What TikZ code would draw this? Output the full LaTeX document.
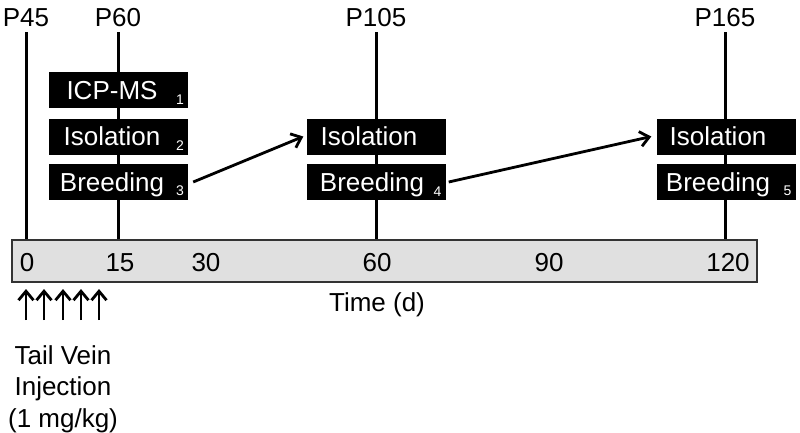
\documentclass[tikz,border=0pt]{standalone}
\usepackage{fontspec}
\setmainfont{Liberation Sans}
\usetikzlibrary{arrows.meta}
\tikzset{
  caja/.style={fill=black, text=white, minimum width=139pt, minimum height=36pt,
    inner sep=0pt, text height=18.5pt, text depth=0pt},
  subind/.style={text=white, font=\fontsize{14}{14}\selectfont, inner sep=0pt,
    anchor=south east},
  etiq/.style={inner sep=0pt, text height=18.5pt, text depth=0pt},
  eje/.style={line width=3pt},
  flecha/.style={line width=2.8pt, -{Straight Barb[length=9pt,width=15pt]}}
}
\begin{document}
\begin{tikzpicture}[x=1pt, y=-1pt, font=\fontsize{26}{31.5}\selectfont]
    \useasboundingbox (0,0) rectangle (800,432);
    % Barra de tiempo
    \node[draw=black!80, fill=black!12, line width=2pt, minimum width=745pt,
      minimum height=42pt, inner sep=0pt, anchor=north west] (barra) at (11,239) {};
    % Valores del eje
    \foreach \d/\x in {0/27,15/120,30/206,60/377,90/549,120/728}
      \node[etiq] (t\d) at (\x,262) {\d};
    \node[etiq] (tiempo) at (377,302) {Time (d)};
    % Edades y lineas verticales
    \foreach \p/\x in {45/26,60/118,105/376,165/725} {
      \node[etiq] (p\p) at (\x,17.5) {P\p};
      \draw[eje] ([yshift=-5.5pt]p\p.south) -- (p\p.south |- barra.north);
    }
    % Cajas
    \node[caja] (icp) at (118.5,90) {ICP-MS\kern13pt};
    \node[caja] (iso2) at (118.5,136.5) {Isolation\kern13pt};
    \node[caja] (bre3) at (118.5,182) {Breeding\kern13pt};
    \node[caja] (iso4) at (376,136.5) {Isolation\kern14pt};
    \node[caja] (bre4) at (376,182) {Breeding\kern8pt};
    \node[caja] (iso5) at (726,136.5) {Isolation\kern16pt};
    \node[caja] (bre5) at (726,182) {Breeding\kern16pt};
    % Subindices
    \node[subind] (s1) at ([xshift=-4pt,yshift=4pt]icp.south east) {1};
    \node[subind] (s2) at ([xshift=-4pt,yshift=4pt]iso2.south east) {2};
    \node[subind] (s3) at ([xshift=-4pt,yshift=4pt]bre3.south east) {3};
    \node[subind] (s4) at ([xshift=-4pt,yshift=4pt]bre4.south east) {4};
    \node[subind] (s5) at ([xshift=-4pt,yshift=4pt]bre5.south east) {5};
    % Flechas entre grupos
    \draw[flecha] ([xshift=5pt]bre3.east) -- ([xshift=-3pt]iso4.west);
    \draw[flecha] ([xshift=3pt]bre4.east) -- ([xshift=-5pt]iso5.west);
    % Inyecciones
    \foreach \i/\x in {1/26,2/44,3/63,4/81,5/99} {
      \coordinate (c\i) at (\x,320);
      \draw[flecha, shorten >=6pt] (c\i) -- (c\i |- barra.south);
    }
    \node[align=center, anchor=north, inner sep=0pt] (nota) at (63,345)
      {Tail Vein\\Injection\\(1 mg/kg)};
\end{tikzpicture}
\end{document}
